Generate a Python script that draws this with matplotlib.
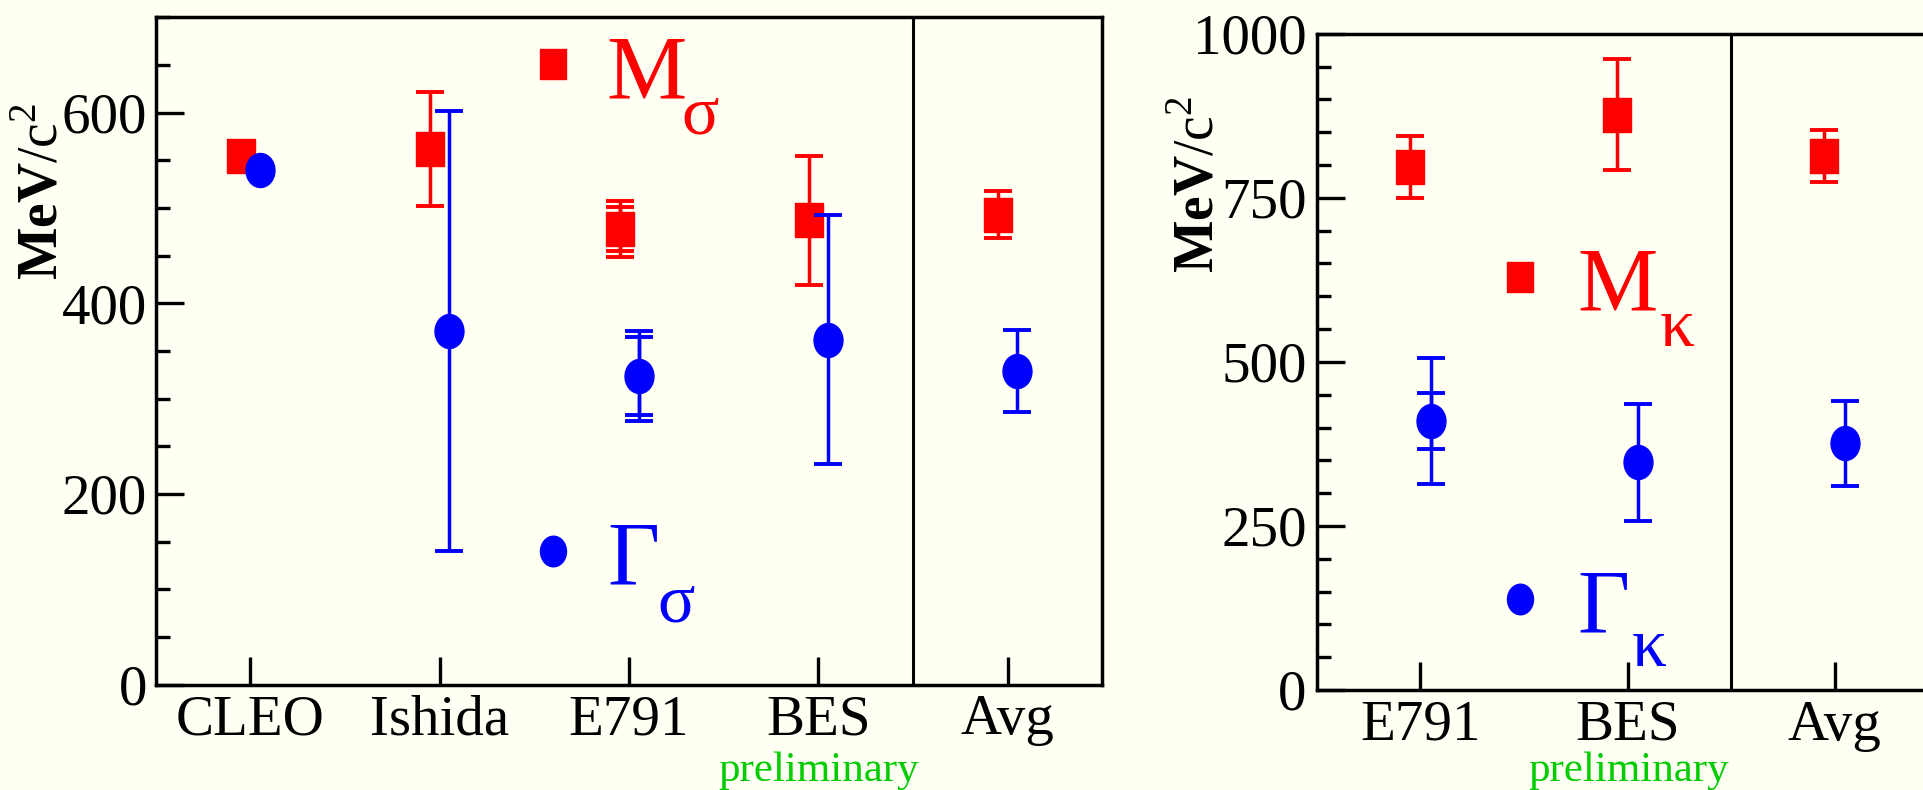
import matplotlib
matplotlib.use("Agg")
import matplotlib.pyplot as plt
from matplotlib.path import Path
from matplotlib.transforms import Affine2D
from matplotlib.ticker import MultipleLocator

# sigma panel
sigma_labels = ["CLEO", "Ishida", "E791", "BES", "Avg"]
sigma_mass = [554, 562, 478, 487, 493]
sigma_mass_err = [0, 60, 29, 68, 25]
sigma_mass_stat = [0, 0, 23, 0, 0]
sigma_width = [540, 371, 324, 362, 329]
sigma_width_err = [0, 231, 47, 131, 43]
sigma_width_stat = [0, 0, 41, 0, 0]

# kappa panel
kappa_labels = ["E791", "BES", "Avg"]
kappa_mass = [797, 877, 814]
kappa_mass_err = [47, 85, 40]
kappa_width = [410, 347, 376]
kappa_width_err = [96, 89, 65]
kappa_width_stat = [43, 0, 0]

bg = "#fffff3"
red = "#ff0000"
blue = "#0000ff"
green = "#00cc00"

plt.rcParams['font.family'] = ['Liberation Serif', 'DejaVu Serif']
plt.rcParams['mathtext.fontset'] = 'custom'
plt.rcParams['mathtext.rm'] = 'Liberation Serif'
plt.rcParams['mathtext.bf'] = 'Liberation Serif:bold'

# markers are a bit taller than wide in the original
square = Path([(-0.41, -0.5), (0.41, -0.5), (0.41, 0.5), (-0.41, 0.5), (-0.41, -0.5)], closed=True)
oval = Path.unit_circle().transformed(Affine2D().scale(0.85, 1.0))

fig = plt.figure(figsize=(19.24, 7.90), dpi=100, facecolor=bg)
ax1 = fig.add_axes([0.081, 0.1334, 0.4919, 0.8447])
ax2 = fig.add_axes([0.6845, 0.1266, 0.3228, 0.8306])


def style(ax, ymax, major, pad):
    ax.set_facecolor(bg)
    for s in ax.spines.values():
        s.set_linewidth(2.5)
    ax.set_ylim(0, ymax)
    ax.yaxis.set_major_locator(MultipleLocator(major))
    ax.yaxis.set_minor_locator(MultipleLocator(50))
    ax.tick_params(which='both', direction='in', top=False, right=False, width=2.4)
    ax.tick_params(which='major', length=20, labelsize=41)
    ax.tick_params(axis='y', pad=pad)
    ax.tick_params(axis='x', pad=7)
    ax.tick_params(which='minor', length=10)


def points(ax, xs, vals, errs, color, marker, stat=None):
    sel = [i for i in range(len(xs)) if errs[i] > 0]
    ax.errorbar([xs[i] for i in sel], [vals[i] for i in sel], yerr=[errs[i] for i in sel],
                fmt='none', ecolor=color, elinewidth=2.5, capsize=10, capthick=2.8)
    if stat is not None:
        sel = [i for i in range(len(xs)) if stat[i] > 0]
        ax.errorbar([xs[i] for i in sel], [vals[i] for i in sel], yerr=[stat[i] for i in sel],
                    fmt='none', ecolor=color, elinewidth=2.5, capsize=10, capthick=2.8)
    ax.plot(xs, vals, ls='none', marker=marker, ms=24.5, color=color, mec=color)


# ---- left: sigma ----
xs = list(range(1, len(sigma_labels) + 1))
points(ax1, [x - 0.05 for x in xs], sigma_mass, sigma_mass_err, red, square, sigma_mass_stat)
points(ax1, [x + 0.05 for x in xs], sigma_width, sigma_width_err, blue, oval, sigma_width_stat)
ax1.axvline(4.5, color='k', lw=2.2)
ax1.set_xlim(0.5, 5.5)
ax1.set_xticks(xs)
ax1.set_xticklabels(sigma_labels)
style(ax1, 700, 200, 6.5)

ax1.plot(2.6, 651, ls='none', marker=square, ms=22, color=red)
ax1.plot(2.6, 140.6, ls='none', marker=oval, ms=22, color=blue)
ax1.text(2.882, 615, "M", color=red, fontsize=65, va='baseline')
ax1.text(3.278, 578, "σ", color=red, fontsize=50, va='baseline')
ax1.text(2.886, 105, "Γ", color=blue, fontsize=65, va='baseline')
ax1.text(3.148, 66, "σ", color=blue, fontsize=50, va='baseline')

# ---- right: kappa ----
xs = list(range(1, len(kappa_labels) + 1))
points(ax2, [x - 0.05 for x in xs], kappa_mass, kappa_mass_err, red, square)
points(ax2, [x + 0.05 for x in xs], kappa_width, kappa_width_err, blue, oval, kappa_width_stat)
ax2.axvline(2.5, color='k', lw=2.2)
ax2.set_xlim(0.5, 3.5)
ax2.set_xticks(xs)
ax2.set_xticklabels(kappa_labels)
style(ax2, 1000, 250, 7.5)

ax2.plot(1.483, 629, ls='none', marker=square, ms=22, color=red)
ax2.plot(1.483, 139, ls='none', marker=oval, ms=22, color=blue)
ax2.text(1.756, 579, "M", color=red, fontsize=65, va='baseline')
ax2.text(2.155, 524, "κ", color=red, fontsize=50, va='baseline')
ax2.text(1.759, 87, "Γ", color=blue, fontsize=65, va='baseline')
ax2.text(2.02, 36, "κ", color=blue, fontsize=50, va='baseline')

ylab = r'$\mathbf{MeV}\mathrm{/c}^{2}$'
fig.text(0.0225, 0.758, ylab, rotation=90, fontsize=40, ha='center', va='center')
fig.text(0.6235, 0.766, ylab, rotation=90, fontsize=40, ha='center', va='center')

fig.text(819 / 1924, 1 - 752 / 790, "preliminary", color=green, fontsize=31, ha='center', va='top')
fig.text(1629 / 1924, 1 - 752 / 790, "preliminary", color=green, fontsize=31, ha='center', va='top')

fig.savefig("out.png", dpi=100, facecolor=bg)
